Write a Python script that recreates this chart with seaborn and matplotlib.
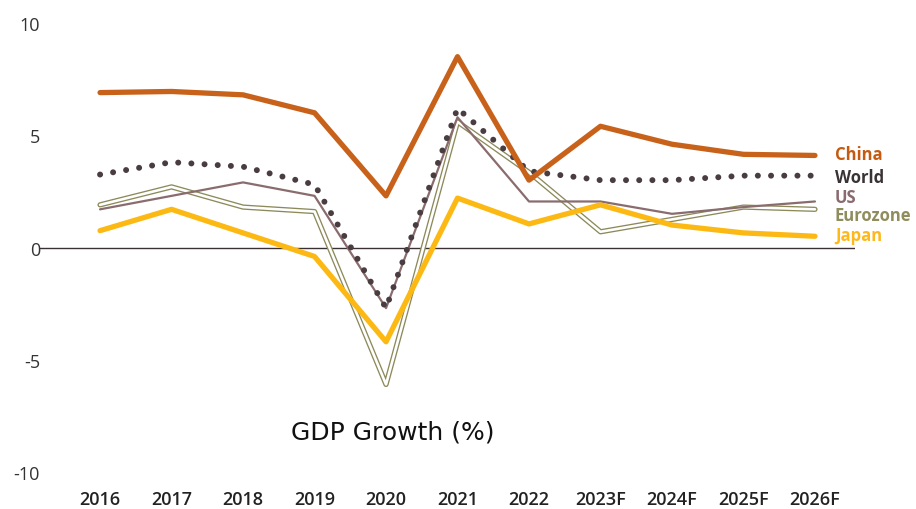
import matplotlib
matplotlib.use("Agg")
import matplotlib.pyplot as plt
import seaborn as sns
import pandas as pd

years = ["2016", "2017", "2018", "2019", "2020", "2021", "2022", "2023F", "2024F", "2025F", "2026F"]
china = [6.9, 6.95, 6.8, 6.0, 2.3, 8.5, 3.0, 5.4, 4.6, 4.15, 4.1]
world = [3.25, 3.8, 3.6, 2.8, -2.7, 6.2, 3.4, 3.0, 3.0, 3.2, 3.2]
us = [1.7, 2.3, 2.9, 2.3, -2.7, 5.8, 2.05, 2.05, 1.5, 1.8, 2.05]
eurozone = [1.9, 2.7, 1.8, 1.6, -6.1, 5.6, 3.35, 0.7, 1.25, 1.8, 1.7]
japan = [0.75, 1.7, 0.65, -0.4, -4.2, 2.2, 1.05, 1.9, 1.0, 0.65, 0.5]

sns.set_theme(style="white")
plt.rcParams["font.family"] = ["Open Sans", "DejaVu Sans"]

fig = plt.figure(figsize=(9.16, 5.10), dpi=100)
ax = fig.add_axes([40 / 916, 1 - 473 / 510, (855 - 40) / 916, (473 - 24) / 510])

df = pd.DataFrame({"year": years, "China": china, "World": world, "US": us,
                   "Eurozone": eurozone, "Japan": japan})

ax.axhline(0, color="#3a3033", lw=1.0, zorder=1)

# Eurozone: double line (olive outline, white core)
sns.lineplot(data=df, x="year", y="Eurozone", ax=ax, color="#8c8a5a", lw=3.8, zorder=2,
             sort=False)
sns.lineplot(data=df, x="year", y="Eurozone", ax=ax, color="white", lw=1.9, zorder=2.1,
             sort=False)
# US
sns.lineplot(data=df, x="year", y="US", ax=ax, color="#8a6c6e", lw=1.6, zorder=3, sort=False)
# Japan
sns.lineplot(data=df, x="year", y="Japan", ax=ax, color="#fdb913", lw=3.8, zorder=4, sort=False)
# World dotted
sns.lineplot(data=df, x="year", y="World", ax=ax, color="#4a3d42", lw=4.3, zorder=5,
             sort=False, linestyle=(0, (0.01, 2.2)), dash_capstyle="round")
# China
sns.lineplot(data=df, x="year", y="China", ax=ax, color="#c8621b", lw=3.8, zorder=6, sort=False)

ax.set_xlim(-0.84, 10.56)
ax.set_ylim(-10, 10)
ax.set_yticks([-10, -5, 0, 5, 10])
ax.set_yticklabels(["-10", "-5", "0", "5", "10"])
ax.set_xlabel("")
ax.set_ylabel("")
for s in ax.spines.values():
    s.set_visible(False)
ax.tick_params(axis="y", length=0, pad=0, labelsize=13, labelcolor="#333333")
ax.tick_params(axis="x", length=0, pad=13, labelsize=13, labelcolor="#222222")
for lbl in ax.get_xticklabels():
    lbl.set_fontweight("semibold")
ax.grid(False)

labels = [("China", 4.15, "#c55a11"), ("World", 3.13, "#3a3336"), ("US", 2.23, "#8a6a6e"),
          ("Eurozone", 1.43, "#8f8c5e"), ("Japan", 0.54, "#ffb81c")]
for name, yv, col in labels:
    ax.text(10.28, yv, name, color=col, fontsize=12, fontweight="bold",
            ha="left", va="center", clip_on=False)

ax.text(4.1, -8.2, "GDP Growth (%)", fontsize=18, color="#111111", ha="center", va="center",
        family="DejaVu Sans")

fig.savefig("out.png", dpi=100, facecolor="white")
